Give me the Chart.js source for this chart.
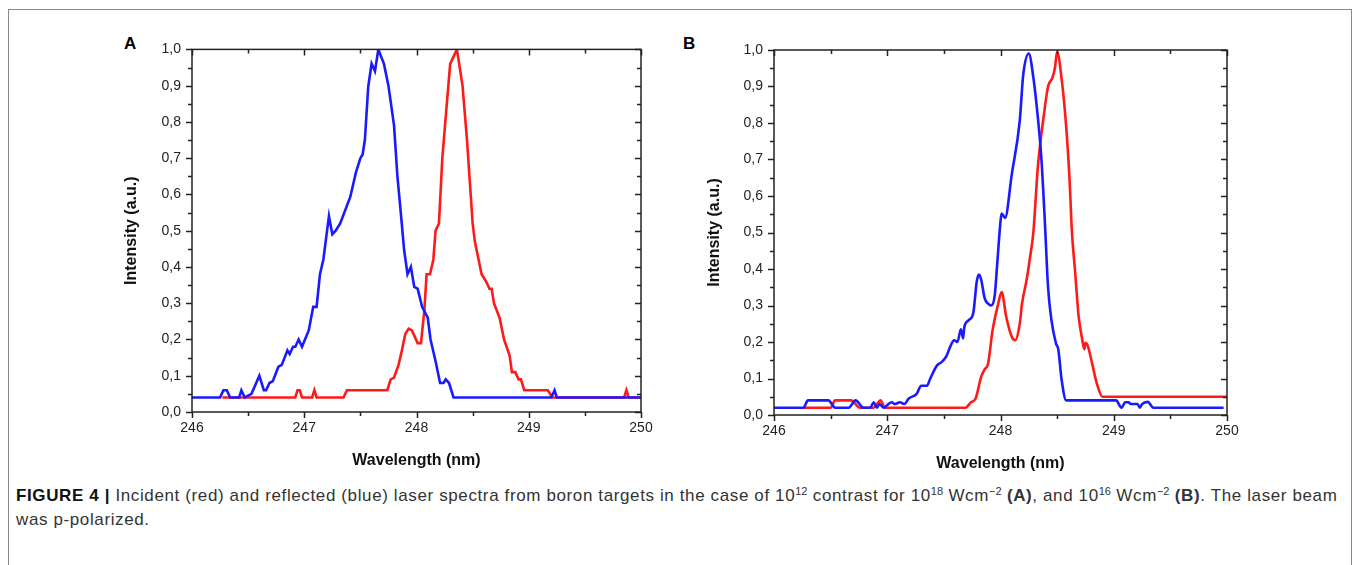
<!DOCTYPE html>
<html>
<head>
<meta charset="utf-8">
<script src="https://cdn.jsdelivr.net/npm/chart.js@4/dist/chart.umd.min.js"></script>
<style>
  html, body { margin: 0; padding: 0; background: #fff; }
  body { width: 1358px; height: 565px; position: relative; overflow: hidden; font-family: "Liberation Sans", Arial, sans-serif; }
  .frame { position: absolute; left: 8px; top: 9px; width: 1342px; height: 600px; border: 1px solid #8a8a8a; }
  .box { position: absolute; }
  .letter { position: absolute; font: bold 17px "Liberation Sans", Arial, sans-serif; color: #000; }
  .caption { position: absolute; left: 16px; top: 484px; font-family: "Liberation Sans Narrow", "Liberation Sans", Arial, sans-serif; font-size: 17px; letter-spacing: 0.62px; line-height: 24px; color: #333; white-space: nowrap; }
  .caption sup { font-size: 11px; vertical-align: 6px; line-height: 0; letter-spacing: 0; }
</style>
</head>
<body>
<div class="frame"></div>
<div class="letter" style="left:124px; top:34px;">A</div>
<div class="letter" style="left:683px; top:34px;">B</div>
<div class="box" style="left:118px; top:30px; width:545px; height:444px;"><canvas id="chartA"></canvas></div>
<div class="box" style="left:701px; top:30px; width:549px; height:447px;"><canvas id="chartB"></canvas></div>
<div class="caption"><b style="color:#111">FIGURE 4 |</b> Incident (red) and reflected (blue) laser spectra from boron targets in the case of 10<sup>12</sup> contrast for 10<sup>18</sup> Wcm<sup>&minus;2</sup> <b>(A)</b>, and 10<sup>16</sup> Wcm<sup>&minus;2</sup> <b>(B)</b>. The laser beam<br>was p-polarized.</div>
<script>
// tick labels
const xTicks = [246, 247, 248, 249, 250];
const yTickLabels = ['0,0', '0,1', '0,2', '0,3', '0,4', '0,5', '0,6', '0,7', '0,8', '0,9', '1,0'];

// Panel A - reflected (blue)
const aBlueWl = [246.00, 246.25, 246.28, 246.31, 246.34, 246.42, 246.44, 246.47, 246.50, 246.53, 246.60, 246.64, 246.66, 246.69, 246.72,
  246.77, 246.80, 246.85, 246.87, 246.90, 246.92, 246.95, 246.98, 247.04, 247.08, 247.11, 247.14, 247.17, 247.22, 247.25, 247.28,
  247.32, 247.41, 247.46, 247.50, 247.52, 247.54, 247.57, 247.60, 247.63, 247.66, 247.71, 247.75, 247.80, 247.83, 247.86, 247.89,
  247.92, 247.95, 247.98, 248.01, 248.05, 248.10, 248.125, 248.17, 248.21, 248.24, 248.26, 248.29, 248.33, 249.20, 249.23, 249.25, 250.00];
const aBlueInt = [0.04, 0.04, 0.06, 0.06, 0.04, 0.04, 0.06, 0.04, 0.045, 0.05, 0.10, 0.06, 0.06, 0.08, 0.085,
  0.125, 0.13, 0.17, 0.16, 0.18, 0.18, 0.20, 0.18, 0.225, 0.29, 0.29, 0.38, 0.42, 0.54, 0.49, 0.50,
  0.52, 0.593, 0.66, 0.70, 0.71, 0.75, 0.897, 0.961, 0.94, 1.0, 0.96, 0.90, 0.79, 0.65, 0.55, 0.446,
  0.38, 0.40, 0.345, 0.34, 0.29, 0.26, 0.20, 0.14, 0.08, 0.08, 0.09, 0.08, 0.04, 0.04, 0.06, 0.04, 0.04];

// Panel A - incident (red)
const aRedWl = [246.27, 246.92, 246.94, 246.96, 246.98, 247.07, 247.09, 247.11, 247.35, 247.38, 247.74, 247.77, 247.80, 247.84,
  247.87, 247.90, 247.93, 247.96, 248.01, 248.04, 248.07, 248.09, 248.12, 248.15, 248.17, 248.20, 248.23, 248.27, 248.30, 248.33,
  248.36, 248.41, 248.45, 248.50, 248.52, 248.54, 248.58, 248.62, 248.65, 248.67, 248.69, 248.74, 248.78, 248.83, 248.85, 248.88,
  248.91, 248.93, 248.96, 249.17, 249.21, 249.85, 249.87, 249.89, 250.00];
const aRedInt = [0.04, 0.04, 0.06, 0.06, 0.04, 0.04, 0.06, 0.04, 0.04, 0.06, 0.06, 0.09, 0.095, 0.13,
  0.17, 0.215, 0.23, 0.225, 0.19, 0.19, 0.28, 0.38, 0.38, 0.42, 0.50, 0.52, 0.70, 0.85, 0.96, 0.98,
  1.0, 0.90, 0.75, 0.52, 0.47, 0.44, 0.38, 0.36, 0.34, 0.34, 0.30, 0.26, 0.20, 0.155, 0.11, 0.11,
  0.09, 0.09, 0.06, 0.06, 0.04, 0.04, 0.06, 0.04, 0.04];

// Panel B - reflected (blue)
const bBlueWl = [246.00, 246.26, 246.30, 246.48, 246.54, 246.66, 246.72, 246.79, 246.85, 246.88, 246.91, 246.93, 246.97, 247.01,
  247.04, 247.07, 247.11, 247.15, 247.19, 247.26, 247.30, 247.35, 247.38, 247.44, 247.48, 247.52, 247.56, 247.59, 247.62, 247.65,
  247.67, 247.68, 247.72, 247.76, 247.79, 247.81, 247.83, 247.86, 247.89, 247.92, 247.95, 247.97, 248.00, 248.01, 248.04, 248.10,
  248.17, 248.20, 248.25, 248.29, 248.33, 248.36, 248.39, 248.42, 248.45, 248.49, 248.51, 248.54, 248.58, 249.02, 249.07, 249.10,
  249.13, 249.15, 249.18, 249.21, 249.23, 249.25, 249.30, 249.35, 249.97];
const bBlueInt = [0.02, 0.02, 0.04, 0.04, 0.02, 0.02, 0.04, 0.02, 0.02, 0.035, 0.02, 0.03, 0.02, 0.03,
  0.035, 0.03, 0.035, 0.03, 0.045, 0.058, 0.08, 0.08, 0.10, 0.136, 0.145, 0.16, 0.19, 0.205, 0.20, 0.235,
  0.21, 0.24, 0.26, 0.28, 0.365, 0.385, 0.37, 0.32, 0.305, 0.30, 0.33, 0.41, 0.53, 0.552, 0.54, 0.66,
  0.806, 0.93, 0.99, 0.925, 0.815, 0.707, 0.54, 0.35, 0.26, 0.196, 0.18, 0.096, 0.04, 0.04, 0.02, 0.035,
  0.035, 0.03, 0.03, 0.03, 0.02, 0.03, 0.036, 0.02, 0.02];

// Panel B - incident (red)
const bRedWl = [246.26, 246.50, 246.54, 246.68, 246.76, 246.88, 246.91, 246.94, 246.98, 247.69, 247.74, 247.78, 247.83, 247.86,
  247.89, 247.93, 247.98, 248.01, 248.05, 248.10, 248.13, 248.17, 248.19, 248.23, 248.26, 248.29, 248.33, 248.38, 248.42, 248.46,
  248.48, 248.50, 248.54, 248.58, 248.61, 248.63, 248.66, 248.69, 248.72, 248.74, 248.75, 248.77, 248.81, 248.85, 248.90, 250.00];
const bRedInt = [0.02, 0.02, 0.04, 0.04, 0.02, 0.02, 0.03, 0.04, 0.02, 0.02, 0.035, 0.045, 0.105, 0.125,
  0.14, 0.232, 0.305, 0.337, 0.27, 0.214, 0.205, 0.25, 0.305, 0.369, 0.43, 0.50, 0.68, 0.815, 0.90, 0.925,
  0.95, 0.995, 0.92, 0.79, 0.643, 0.506, 0.388, 0.27, 0.21, 0.18, 0.198, 0.19, 0.14, 0.087, 0.05, 0.05];

const RED = '#ff1a1a';
const BLUE = '#1a1aff';

const pts = (xs, ys) => xs.map((x, i) => ({ x: x, y: ys[i] }));

// box around the plot + minor ticks and mirrored ticks on top/right
const frameTicks = {
  id: 'frameTicks',
  afterDraw(chart) {
    const { ctx, chartArea: a, scales: { x, y } } = chart;
    ctx.save();
    ctx.strokeStyle = '#222';
    ctx.lineWidth = 1.5;
    ctx.strokeRect(a.left, a.top, a.right - a.left, a.bottom - a.top);
    ctx.beginPath();
    for (let v = 246; v <= 250.001; v += 0.5) {
      const len = Math.abs(v - Math.round(v)) < 1e-6 ? 6 : 4;
      const px = Math.round(x.getPixelForValue(v)) + 0.5;
      ctx.moveTo(px, a.bottom); ctx.lineTo(px, a.bottom + len);
      ctx.moveTo(px, a.top); ctx.lineTo(px, a.top + len);
    }
    for (let i = 0; i <= 20; i++) {
      const len = i % 2 === 0 ? 6 : 4;
      const py = Math.round(y.getPixelForValue(i * 0.05)) + 0.5;
      ctx.moveTo(a.left, py); ctx.lineTo(a.left - len, py);
      ctx.moveTo(a.right, py); ctx.lineTo(a.right - len, py);
    }
    ctx.stroke();
    ctx.restore();
  }
};

function makePanel(id, red, blue, yWidth, xHeight, pad, smooth) {
  const line = (data, color) => ({
    data: data,
    borderColor: color,
    borderWidth: 2.6,
    pointRadius: 0,
    fill: false,
    tension: smooth ? 0.35 : 0,
    cubicInterpolationMode: smooth ? 'monotone' : 'default'
  });
  new Chart(document.getElementById(id), {
    type: 'line',
    data: {
      // blue first so it is drawn over red
      datasets: [line(blue, BLUE), line(red, RED)]
    },
    options: {
      responsive: true,
      maintainAspectRatio: false,
      animation: false,
      layout: { padding: pad },
      plugins: { legend: { display: false }, tooltip: { enabled: false } },
      scales: {
        x: {
          type: 'linear',
          min: 246,
          max: 250,
          afterBuildTicks: (s) => { s.ticks = xTicks.map(v => ({ value: v })); },
          afterFit: (s) => { s.height = xHeight; },
          grid: { display: false, drawTicks: false },
          border: { display: false },
          ticks: {
            padding: 8,
            color: '#222',
            font: { family: '"Liberation Sans", Arial, sans-serif', size: 14 },
            callback: (v) => String(v)
          },
          title: {
            display: true,
            text: 'Wavelength (nm)',
            color: '#111',
            padding: 4,
            font: { family: '"Liberation Sans", Arial, sans-serif', size: 16, weight: 'bold' }
          }
        },
        y: {
          min: 0,
          max: 1,
          afterBuildTicks: (s) => { s.ticks = yTickLabels.map((t, i) => ({ value: i / 10 })); },
          afterFit: (s) => { s.width = yWidth; },
          grid: { display: false, drawTicks: false },
          border: { display: false },
          ticks: {
            padding: 11,
            color: '#222',
            font: { family: '"Liberation Sans", Arial, sans-serif', size: 14 },
            callback: (v, i) => yTickLabels[i]
          },
          title: {
            display: true,
            text: 'Intensity (a.u.)',
            color: '#111',
            padding: 4,
            font: { family: '"Liberation Sans", Arial, sans-serif', size: 16, weight: 'bold' }
          }
        }
      }
    },
    plugins: [frameTicks]
  });
}

makePanel('chartA', pts(aRedWl, aRedInt), pts(aBlueWl, aBlueInt), 74, 62,
  { top: 19, right: 22, left: 0, bottom: 0 }, false);
makePanel('chartB', pts(bRedWl, bRedInt), pts(bBlueWl, bBlueInt), 73, 62,
  { top: 20, right: 23, left: 0, bottom: 0 }, true);
</script>
</body>
</html>
